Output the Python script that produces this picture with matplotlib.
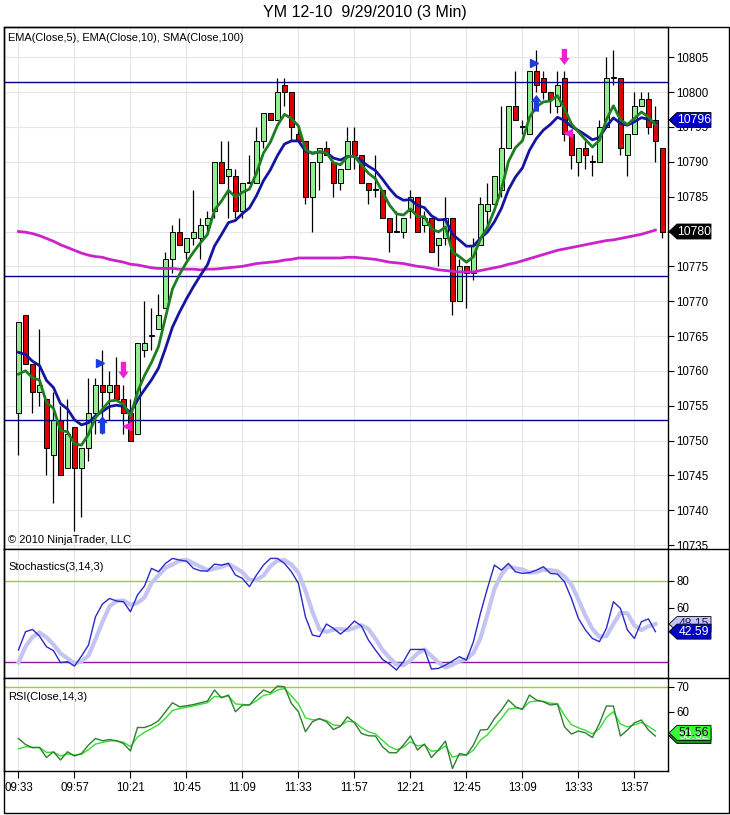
import matplotlib
matplotlib.use("Agg")
import matplotlib.pyplot as plt
import numpy as np
import pandas as pd
from matplotlib.lines import Line2D
from matplotlib.patches import FancyArrowPatch, Polygon, Rectangle

plt.rcParams["font.family"] = ["Liberation Sans", "DejaVu Sans"]

# YM 12-10, 3 min bars from 09:33
opens = [10754, 10768, 10761, 10757, 10756, 10748, 10753, 10746, 10752, 10746,
         10749, 10754, 10758, 10757, 10758, 10756, 10754, 10751, 10763, 10765,
         10766, 10769, 10776, 10780, 10777, 10779, 10779, 10781, 10783, 10790,
         10788, 10788, 10783, 10787, 10787, 10793, 10797, 10796, 10801, 10800,
         10794, 10793, 10785, 10790, 10792, 10790, 10787, 10789, 10793, 10791,
         10787, 10786, 10786, 10782, 10780, 10780, 10783, 10785, 10781, 10782,
         10778, 10779, 10782, 10770, 10775, 10774, 10778, 10783, 10784, 10786,
         10792, 10798, 10795, 10794, 10803, 10802, 10800, 10798, 10802, 10794,
         10790, 10792, 10790, 10790, 10795, 10802, 10802, 10791, 10794, 10798,
         10799, 10796, 10792]
highs = [10767, 10768, 10761, 10766, 10756, 10757, 10755, 10756, 10752, 10749,
         10759, 10759, 10763, 10760, 10762, 10758, 10756, 10764, 10770, 10769,
         10771, 10777, 10781, 10782, 10779, 10786, 10782, 10783, 10790, 10793,
         10793, 10789, 10787, 10791, 10795, 10797, 10797, 10802, 10802, 10800,
         10795, 10793, 10790, 10792, 10793, 10790, 10789, 10795, 10795, 10791,
         10787, 10791, 10786, 10782, 10783, 10782, 10786, 10785, 10783, 10782,
         10779, 10785, 10782, 10776, 10775, 10779, 10785, 10787, 10788, 10798,
         10798, 10803, 10796, 10803, 10806, 10803, 10800, 10803, 10803, 10794,
         10792, 10793, 10791, 10796, 10805, 10806, 10802, 10794, 10800, 10800,
         10800, 10798, 10792]
lows = [10748, 10761, 10754, 10755, 10745, 10741, 10745, 10746, 10737, 10739,
        10747, 10751, 10751, 10753, 10756, 10751, 10750, 10751, 10762, 10763,
        10766, 10769, 10774, 10778, 10776, 10778, 10776, 10780, 10782, 10787,
        10782, 10782, 10782, 10787, 10787, 10792, 10796, 10796, 10798, 10793,
        10793, 10784, 10780, 10786, 10791, 10785, 10786, 10789, 10789, 10787,
        10784, 10785, 10782, 10777, 10780, 10779, 10782, 10780, 10780, 10777,
        10775, 10778, 10768, 10770, 10769, 10773, 10778, 10781, 10784, 10785,
        10792, 10796, 10794, 10794, 10800, 10799, 10797, 10797, 10793, 10789,
        10788, 10789, 10788, 10790, 10795, 10801, 10791, 10788, 10794, 10798,
        10794, 10790, 10779]
closes = [10767, 10761, 10757, 10758, 10749, 10753, 10745, 10751, 10746, 10749,
          10754, 10758, 10757, 10758, 10756, 10754, 10750, 10764, 10764, 10765,
          10768, 10776, 10780, 10778, 10779, 10780, 10781, 10782, 10790, 10787,
          10789, 10783, 10787, 10787, 10793, 10797, 10796, 10800, 10800, 10795,
          10793, 10785, 10790, 10792, 10791, 10787, 10789, 10793, 10791, 10787,
          10786, 10786, 10782, 10780, 10780, 10782, 10785, 10780, 10782, 10777,
          10779, 10782, 10770, 10775, 10774, 10778, 10784, 10784, 10788, 10792,
          10798, 10796, 10795, 10803, 10801, 10800, 10799, 10801, 10794, 10791,
          10792, 10791, 10790, 10795, 10802, 10802, 10792, 10794, 10798, 10799,
          10795, 10793, 10780]

# SMA(Close,100) (closed bars only)
sma100 = [10780.0, 10779.9, 10779.7, 10779.4, 10779.0, 10778.6, 10778.1, 10777.7, 10777.3, 10776.9,
          10776.6, 10776.4, 10776.3, 10776.0, 10775.8, 10775.6, 10775.3, 10775.2, 10775.0, 10774.8,
          10774.7, 10774.7, 10774.7, 10774.6, 10774.6, 10774.6, 10774.5, 10774.6, 10774.6, 10774.7,
          10774.8, 10774.9, 10775.0, 10775.2, 10775.4, 10775.5, 10775.6, 10775.7, 10775.9, 10776.0,
          10776.2, 10776.2, 10776.2, 10776.2, 10776.2, 10776.2, 10776.2, 10776.3, 10776.3, 10776.2,
          10776.1, 10776.0, 10775.8, 10775.6, 10775.5, 10775.4, 10775.2, 10775.0, 10774.9, 10774.7,
          10774.5, 10774.4, 10774.3, 10774.2, 10774.2, 10774.2, 10774.4, 10774.6, 10774.8, 10775.0,
          10775.3, 10775.5, 10775.8, 10776.1, 10776.4, 10776.7, 10777.0, 10777.3, 10777.5, 10777.7,
          10777.9, 10778.1, 10778.3, 10778.5, 10778.7, 10778.8, 10779.0, 10779.2, 10779.4, 10779.6,
          10779.9, 10780.2]
ema5_seed = 10755.8
ema10_seed = 10761.7

stoch_k = [29.1, 42.5, 44.2, 39.3, 31.5, 28.6, 19.8, 20.5, 17.3, 24.6,
           32.7, 53.5, 62.9, 67.0, 65.1, 64.6, 57.2, 69.5, 76.1, 89.1,
           86.6, 92.7, 96.4, 95.2, 94.4, 89.1, 87.3, 87.1, 92.2, 91.5,
           92.7, 84.2, 81.7, 75.6, 84.2, 91.5, 96.4, 96.4, 92.7, 86.6,
           78.0, 53.5, 40.1, 38.9, 48.2, 45.0, 40.8, 45.0, 50.4, 46.7,
           36.4, 29.1, 22.2, 18.8, 14.4, 20.5, 29.5, 29.5, 29.5, 15.1,
           15.6, 18.0, 21.0, 24.2, 21.7, 35.2, 56.0, 74.4, 91.5, 87.8,
           92.7, 86.6, 85.4, 85.9, 87.8, 90.3, 85.4, 84.9, 79.3, 67.0,
           52.3, 43.8, 37.6, 35.2, 45.0, 64.6, 59.7, 43.8, 37.6, 49.9,
           51.96, 42.59]
stoch_k_prior = [8.0, 23.0]

rsi_vals = [49.3, 46.9, 45.6, 45.7, 41.7, 44.0, 40.7, 44.0, 42.3, 43.3,
            46.7, 49.3, 48.4, 48.9, 48.4, 47.3, 44.3, 53.7, 53.7, 54.7,
            56.4, 60.0, 63.6, 62.0, 62.4, 62.9, 63.6, 64.3, 68.7, 65.6,
            66.7, 60.0, 62.7, 62.7, 66.0, 68.7, 67.6, 70.3, 70.0, 63.3,
            60.0, 52.0, 56.0, 57.3, 56.0, 52.9, 54.2, 58.0, 55.6, 51.3,
            50.4, 50.3, 46.0, 43.6, 43.6, 46.7, 50.3, 44.7, 47.1, 41.7,
            44.7, 48.3, 37.3, 43.3, 42.7, 46.7, 52.7, 52.9, 57.3, 60.7,
            64.7, 62.0, 60.9, 66.7, 64.7, 64.0, 62.7, 63.1, 54.0, 51.1,
            52.3, 51.6, 49.7, 55.3, 62.3, 62.3, 50.3, 52.7, 55.6, 56.7,
            52.7, 50.3]
rsi_avg_seed = 41.0

hlines = [10801.5, 10773.6, 10753.0]
price_tags = [10796, 10780]
stoch_tags = [48.15, 42.59]
rsi_tags = [50.32, 51.56]

tri_right_x = [11.6, 73.6]
tri_right_y = [10761.1, 10804.2]
up_x = [12, 74]
up_from = [10751.0, 10797.2]
up_to = [10753.5, 10799.6]
down_x = [15, 78]
down_from = [10761.3, 10806.2]
down_to = [10758.9, 10803.9]
tri_left_x = [15.5, 78.5]
tri_left_y = [10752.1, 10794.1]

time_labels = ["09:33", "09:57", "10:21", "10:45", "11:09", "11:33",
               "11:57", "12:21", "12:45", "13:09", "13:33", "13:57"]


def ema(values, period, seed):
    alpha = 2.0 / (period + 1)
    out, prev = [], seed
    for v in values:
        prev = prev + alpha * (v - prev)
        out.append(prev)
    return np.array(out)


W, H = 730, 815
fig = plt.figure(figsize=(W / 100, H / 100), dpi=100)


def fx(x):
    return x / W


def fy(y):
    return 1 - y / H


n = len(closes)
x = np.arange(n)
xc = np.arange(len(sma100))  # indicators stop at last closed bar
closes_arr = np.array(closes)
ema5 = ema(closes_arr[:len(xc)], 5, ema5_seed)
ema10 = ema(closes_arr[:len(xc)], 10, ema10_seed)
stoch_d = pd.Series(stoch_k_prior + stoch_k).rolling(3).mean().iloc[len(stoch_k_prior):].values
rsi_avg = ema(np.array(rsi_vals), 3, rsi_avg_seed)

xlim = (-2.07, 92.8)
grid_col = "#e6e6e6"
left, width = fx(4), fx(668) - fx(4)

ax = fig.add_axes([left, fy(549.3), width, fy(27.3) - fy(549.3)])
ax_s = fig.add_axes([left, fy(678.3), width, fy(549.3) - fy(678.3)])
ax_r = fig.add_axes([left, fy(771), width, fy(678.3) - fy(771)])

for a in (ax, ax_s, ax_r):
    a.set_xlim(*xlim)
    a.set_xticks(np.arange(0, n, 8))
    a.grid(axis="x", color=grid_col, lw=0.8)
    a.set_axisbelow(True)
    a.yaxis.tick_right()
    a.tick_params(axis="y", direction="out", length=4, width=0.8, pad=2,
                  labelsize=8.3, colors="black")
    for sp in a.spines.values():
        sp.set_color("black")
        sp.set_linewidth(1)

# price panel
ax.set_ylim(10734.4, 10809.3)
ax.set_yticks(np.arange(10735, 10806, 5))
ax.grid(axis="y", color=grid_col, lw=0.8)
ax.tick_params(axis="x", bottom=False, labelbottom=False)

up = closes_arr >= np.array(opens)
ax.vlines(x, lows, highs, color="black", lw=0.9, zorder=2)
body = np.array(closes) - np.array(opens)
body = np.where(body == 0, 0.12, body)
ax.bar(x, body, bottom=opens, width=0.62,
       color=np.where(up, "#90ee90", "#e00000"), edgecolor="black", lw=0.7, zorder=3)

for lvl in hlines:
    ax.axhline(lvl, color="#00008b", lw=1, zorder=4)

ax.plot(xc, sma100, color="#cc22cc", lw=2, zorder=5)
ax.plot(xc, ema10, color="#1414a0", lw=2, zorder=6)
ax.plot(xc, ema5, color="#1e7d1e", lw=2, zorder=7)

ax.plot(tri_right_x, tri_right_y, ">", color="#1a3ce0", ms=5.5, zorder=8)
ax.plot(tri_left_x, tri_left_y, "<", color="#f020d0", ms=5.5, zorder=8)
for xs, y0, y1, col in [(up_x, up_from, up_to, "#1a3ce0"), (down_x, down_from, down_to, "#f020d0")]:
    for xi, a0, a1 in zip(xs, y0, y1):
        ax.add_patch(FancyArrowPatch((xi, a0), (xi, a1),
                                     arrowstyle="simple,head_width=0.75,head_length=0.5,tail_width=0.38",
                                     mutation_scale=10, fc=col, ec=col, lw=0, shrinkA=0, shrinkB=0, zorder=8))

# stochastics panel
ax_s.set_ylim(8.3, 103.1)
ax_s.set_yticks([60, 80])
ax_s.tick_params(axis="x", bottom=False, labelbottom=False)
ax_s.axhline(80, color="#9acd32", lw=1)
ax_s.axhline(20, color="#8b1a9b", lw=1)
ax_s.plot(xc, stoch_d, color="#c4c4f2", lw=3)
ax_s.plot(xc, stoch_k, color="#2a2ac8", lw=1)

# RSI panel
ax_r.set_ylim(36.3, 73.4)
ax_r.set_yticks([60, 70])
ax_r.axhline(70, color="#9acd32", lw=1)
ax_r.axhline(30, color="#9acd32", lw=1)
ax_r.plot(xc, rsi_avg, color="#33dd33", lw=1)
ax_r.plot(xc, rsi_vals, color="#2f7f2f", lw=1)
ax_r.set_xticklabels(time_labels)
ax_r.tick_params(axis="x", direction="out", length=5, width=0.8, pad=3, labelsize=8.3)


def tag(a, yv, text, face, tcolor):
    # pointed value box sitting on the right axis
    ydisp = a.transData.transform((0, yv))[1]
    yc = H - ydisp  # pixel row from the top
    tip, body_l, right, half = 669, 677, 711, 7.5
    pts = [(tip, yc), (body_l, yc - half), (right, yc - half), (right, yc + half), (body_l, yc + half)]
    fig.add_artist(Polygon([(fx(px), fy(py)) for px, py in pts], closed=True,
                           transform=fig.transFigure, fc=face, ec="black", lw=0.6))
    fig.text(fx((body_l + right) / 2), fy(yc), text, ha="center", va="center",
             fontsize=8.8, color=tcolor)


tag(ax, price_tags[0], f"{price_tags[0]}", "#0000cd", "white")
tag(ax, price_tags[1], f"{price_tags[1]}", "black", "white")
tag(ax_s, stoch_tags[0], f"{stoch_tags[0]:.2f}", "#c4c4f2", "#202060")
tag(ax_s, stoch_tags[1], f"{stoch_tags[1]:.2f}", "#0000cd", "white")
tag(ax_r, rsi_tags[0], f"{rsi_tags[0]:.2f}", "#1e8c1e", "white")
tag(ax_r, rsi_tags[1], f"{rsi_tags[1]:.2f}", "#33ff33", "black")

# frame and panel separators
fig.add_artist(Rectangle((fx(3.5), fy(813)), fx(729) - fx(3.5), fy(27.3) - fy(813),
                         transform=fig.transFigure, fill=False, ec="black", lw=1))
for yy in (549.3, 678.3):
    fig.add_artist(Line2D([fx(668), fx(729)], [fy(yy), fy(yy)], transform=fig.transFigure,
                          color="black", lw=1))

fig.text(0.5, fy(13), "YM 12-10  9/29/2010 (3 Min)", ha="center", va="center", fontsize=11.5)
fig.text(fx(8), fy(38), "EMA(Close,5), EMA(Close,10), SMA(Close,100)", ha="left", va="center", fontsize=7.9)
fig.text(fx(8), fy(540), "\u00a9 2010 NinjaTrader, LLC", ha="left", va="center", fontsize=8)
fig.text(fx(8), fy(567), "Stochastics(3,14,3)", ha="left", va="center", fontsize=8)
fig.text(fx(8), fy(697), "RSI(Close,14,3)", ha="left", va="center", fontsize=8)

fig.savefig("out.png", dpi=100)
